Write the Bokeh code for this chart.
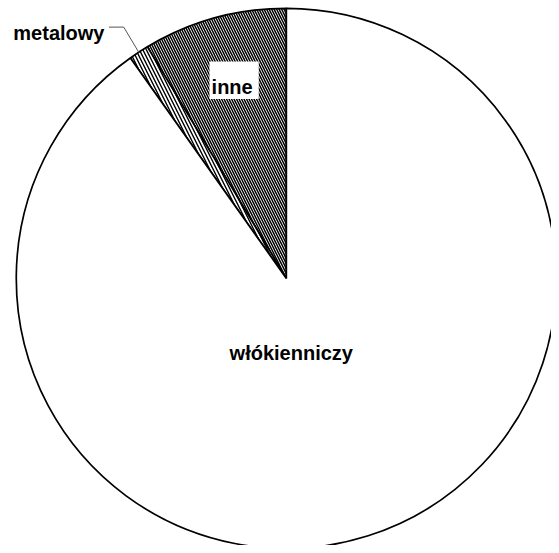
import math
from bokeh.plotting import figure
from bokeh.models import Range1d, Label
from bokeh.embed import file_html
from bokeh.resources import INLINE

# data (shares of the pie, percent)
categories = ["inne", "metalowy", "włókienniczy"]
shares = [8.6, 1.2, 90.2]

# reference canvas units (559 x 553) mapped onto the figure
RW, RH = 559, 553
W, H = 551, 545
p = figure(width=W, height=H, output_backend="svg", toolbar_location=None,
           x_range=Range1d(0, RW), y_range=Range1d(0, RH), min_border=0)
p.axis.visible = False
p.grid.visible = False
p.outline_line_color = None
p.background_fill_color = "white"

def Y(y):
    return RH - y

cx, cy, r = 290, Y(282), 274

total = sum(shares)
angles = []
acc = 0.0
for s in shares:
    a0 = math.pi / 2 + 2 * math.pi * acc / total
    acc += s
    a1 = math.pi / 2 + 2 * math.pi * acc / total
    angles.append((a0, a1))

hatches = ["\\", "\\", " "]
scales = [5.0, 7.0, 12.0]
weights = [1.5, 1.4, 1.0]
for (a0, a1), hp, hs, hw in zip(angles, hatches, scales, weights):
    p.wedge(x=cx, y=cy, radius=r, start_angle=a0, end_angle=a1,
            fill_color="white", line_color="black", line_width=1.7,
            hatch_pattern=hp, hatch_color="black", hatch_scale=hs, hatch_weight=hw)

# white box behind "inne"
p.rect(x=237, y=Y(81), width=50, height=38, fill_color="white", line_color=None)

common = dict(text_font="Liberation Sans", text_font_size="20px",
              text_font_style="bold", text_color="black")
p.add_layout(Label(x=235, y=Y(88), text=categories[0], text_align="center",
                   text_baseline="alphabetic", **common))
p.add_layout(Label(x=295, y=Y(358), text=categories[2], text_align="center",
                   text_baseline="alphabetic", **common))
p.add_layout(Label(x=13, y=Y(33), text=categories[1], text_align="left",
                   text_baseline="alphabetic", **common))

# leader line for "metalowy"
a0, a1 = angles[1]
am = (a0 + a1) / 2
ex = cx + r * math.cos(am)
ey = cy + r * math.sin(am)
p.line(x=[110, 125, ex], y=[Y(27), Y(27), ey], line_color="#555555", line_width=1)

open("out.html", "w").write(file_html(p, INLINE))
